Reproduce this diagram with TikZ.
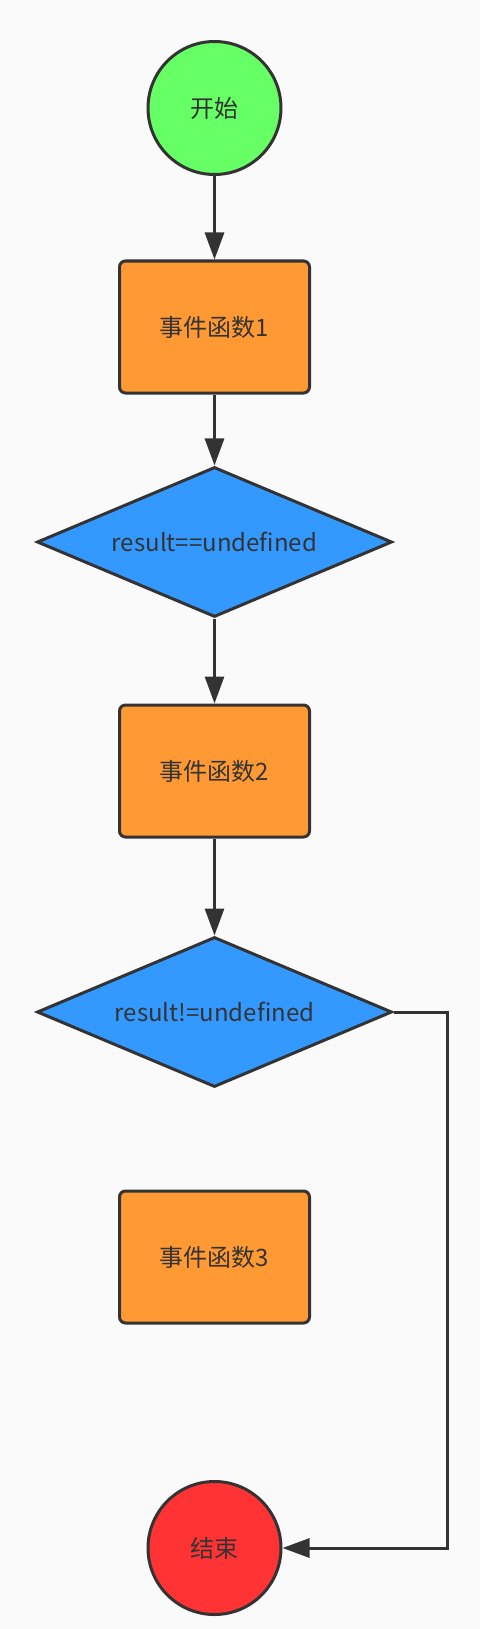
\documentclass[tikz,border=0pt]{standalone}
\usepackage{fontspec}
\newfontfamily\cjk{Noto Sans CJK SC}
\usetikzlibrary{shapes.geometric,arrows.meta}
\definecolor{bggray}{HTML}{FAFAFA}
\definecolor{linegray}{HTML}{333333}
\definecolor{startgreen}{HTML}{66FF66}
\definecolor{stopred}{HTML}{FF3333}
\definecolor{procorange}{HTML}{FF9933}
\definecolor{decblue}{HTML}{3399FF}
\tikzset{
	base/.style={draw=linegray, line width=3pt, text=linegray, inner sep=0pt,
		font=\cjk\fontsize{24}{28}\selectfont},
	terminal/.style={base, circle, minimum size=133pt},
	process/.style={base, rectangle, rounded corners=6pt, fill=procorange,
		minimum width=190pt, minimum height=132pt},
	decision/.style={base, diamond, aspect=2.4, fill=decblue,
		minimum width=355pt, minimum height=150pt},
	flow/.style={draw=linegray, line width=3pt, -{Triangle[length=27pt,width=19pt]}},
}
\begin{document}
\begin{tikzpicture}[x=1pt,y=-1pt]
	\fill[bggray] (0,0) rectangle (480,1629);
	\node[terminal, fill=startgreen] (start) at (214.5,108) {开始};
	\node[process] (f1) at (214.5,327) {事件函数1};
	\node[decision] (d1) at (214.5,542) {result==undefined};
	\node[process] (f2) at (214.5,771) {事件函数2};
	\node[decision] (d2) at (214.5,1012) {result!=undefined};
	\node[process] (f3) at (214.5,1257) {事件函数3};
	\node[terminal, fill=stopred] (stop) at (214.5,1548) {结束};
	\coordinate (turn) at (447,1012);
	\draw[flow] (start) -- (f1);
	\draw[flow] (f1) -- (d1);
	\draw[flow] (d1) -- (f2);
	\draw[flow] (f2) -- (d2);
	\draw[flow] (d2.east) -- (turn) |- (stop.east);
\end{tikzpicture}
\end{document}
